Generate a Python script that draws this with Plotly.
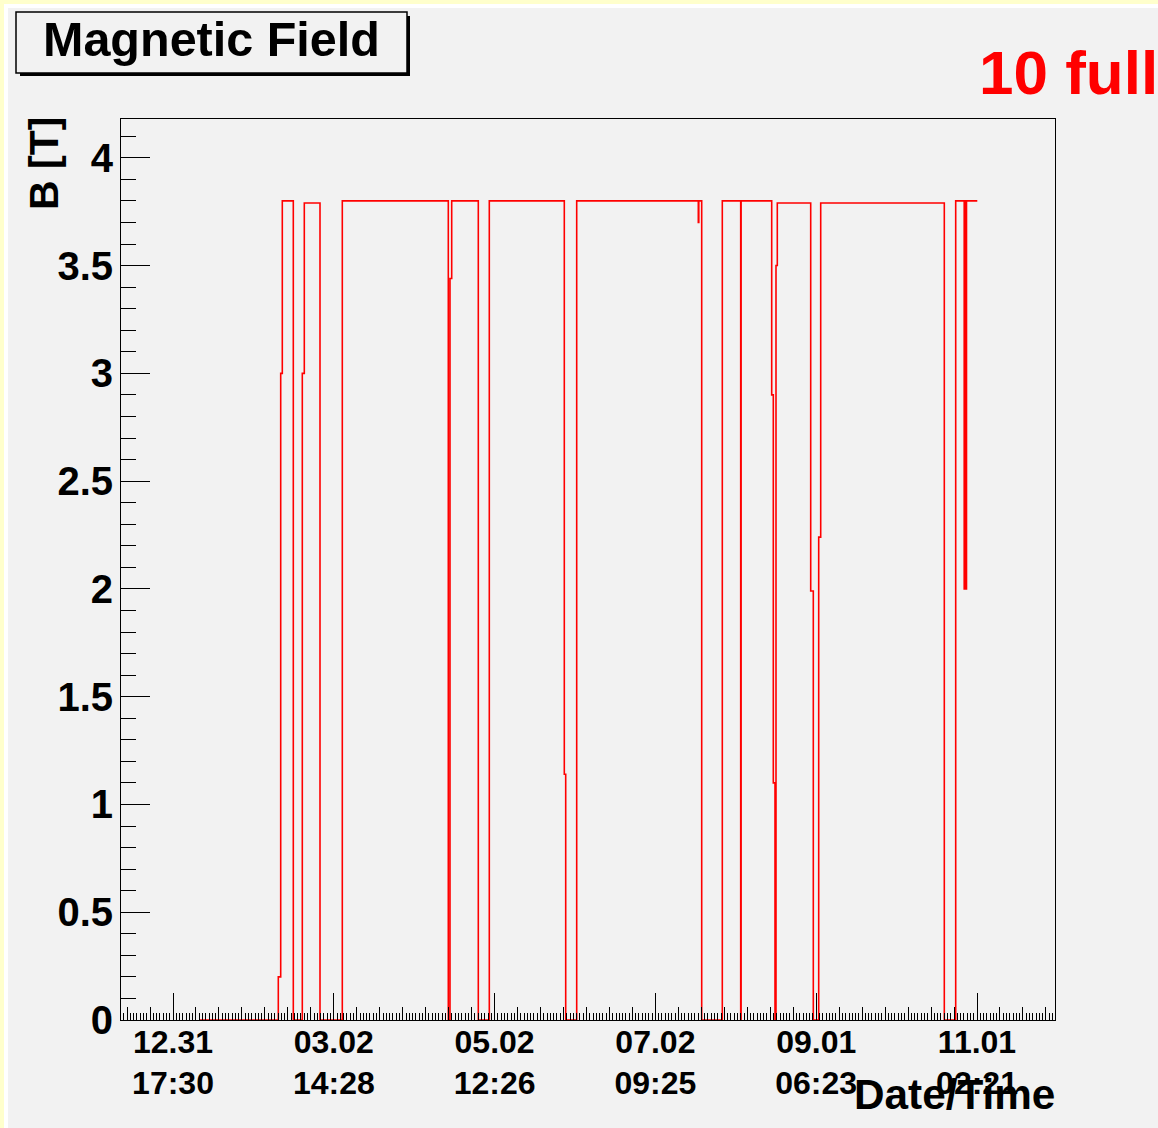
import plotly.graph_objects as go
import pandas as pd

# ---- data ----
times = [
    "2009-01-10 22:49", "2009-02-09 14:14", "2009-02-10 12:01", "2009-02-11 02:34",
    "2009-02-15 06:30", "2009-02-18 16:16", "2009-02-19 10:26", "2009-02-25 09:06",
    "2009-03-05 19:42", "2009-04-14 22:46", "2009-04-15 14:14", "2009-04-16 05:40",
    "2009-04-26 07:21", "2009-04-30 11:18", "2009-05-28 20:43", "2009-05-29 09:27",
    "2009-06-02 13:24", "2009-07-18 14:13", "2009-07-18 18:45", "2009-07-19 21:06",
    "2009-07-27 16:16", "2009-08-03 15:26", "2009-08-03 19:12", "2009-08-15 09:06",
    "2009-08-15 23:38", "2009-08-16 15:04", "2009-08-17 00:10", "2009-08-17 11:59",
    "2009-08-30 03:26", "2009-08-31 03:03", "2009-09-02 04:08", "2009-09-02 22:18",
    "2009-10-19 17:17", "2009-10-24 00:52", "2009-10-27 06:06", "2009-10-27 13:21",
    "2009-10-27 20:37", "2009-10-28 02:59", "2009-11-01 05:07",
]
field = [
    0.0, 0.2, 3.0, 3.8,
    0.0, 3.0, 3.79, 0.0,
    3.8, 0.0, 3.44, 3.8,
    0.0, 3.8, 1.14, 0.0,
    3.8, 3.70, 3.8, 0.0,
    3.8, 0.0, 3.8, 2.9,
    1.1, 0.0, 3.5, 3.79,
    1.99, 0.0, 2.24, 3.79,
    0.0, 3.8, 2.0, 3.8,
    2.0, 3.8, 3.8,
]

date_labels = ["12.31", "03.02", "05.02", "07.02", "09.01", "11.01"]
time_labels = ["17:30", "14:28", "12:26", "09:25", "06:23", "02:21"]

x_range = ["2008-12-12 01:02", "2009-11-30 15:04"]
y_range = [0, 4.18]

# ---- axis tick configuration ----
t0 = pd.Timestamp("2008-12-31 17:30:00")
primary_s = 5259492.0               # spacing of labelled ticks (s)
tickvals = [(t0 + pd.Timedelta(seconds=primary_s * k)).strftime("%Y-%m-%d %H:%M:%S")
            for k in range(len(date_labels))]
secondary_ms = primary_s / 7 * 1000
tertiary_ms = primary_s / 49 * 1000

W, H = 1158, 1128
L, R, T, B = 121, 1055, 119, 1020


def px(x):
    return (x - L) / (R - L)


def py(y):
    return (B - y) / (B - T)


FONT = "Liberation Sans, Arial, Helvetica, sans-serif"
GRAY = "#f2f2f2"

fig = go.Figure()
fig.add_trace(go.Scatter(
    x=times, y=field, mode="lines", line_shape="hv",
    line=dict(color="#ff0000", width=1.6), showlegend=False,
))
# empty helper traces so that the overlaid tick axes are drawn
for ax in ("x2", "x3"):
    fig.add_trace(go.Scatter(x=[None], y=[None], xaxis=ax, yaxis="y",
                             mode="lines", showlegend=False, hoverinfo="skip"))

fig.update_layout(
    width=W, height=H,
    margin=dict(l=L, r=W - R, t=T, b=H - B, pad=0),
    paper_bgcolor="#ffffcc",
    plot_bgcolor=GRAY,
    showlegend=False,
    xaxis=dict(
        type="date", range=x_range, showgrid=False, zeroline=False,
        showline=True, linecolor="black", linewidth=1, mirror=True,
        tickmode="array", tickvals=tickvals, ticktext=date_labels,
        ticks="inside", ticklen=27, tickwidth=1, tickcolor="black",
        tickfont=dict(family=FONT, size=32, color="black", weight="bold"),
        ticklabelstandoff=-6,
        minor=dict(tickmode="linear", tick0=tickvals[0], dtick=secondary_ms,
                   ticks="inside", ticklen=13, tickwidth=1, tickcolor="black",
                   showgrid=False),
    ),
    xaxis2=dict(
        type="date", range=x_range, overlaying="x", anchor="y", side="bottom",
        showgrid=False, zeroline=False, showline=False,
        tickmode="linear", tick0=tickvals[0], dtick=tertiary_ms,
        ticks="inside", ticklen=7, tickwidth=1, tickcolor="black",
        showticklabels=False,
    ),
    xaxis3=dict(
        type="date", range=x_range, overlaying="x", anchor="y", side="bottom",
        showgrid=False, zeroline=False, showline=False,
        tickmode="array", tickvals=tickvals, ticktext=time_labels,
        ticks="", ticklabelstandoff=41,
        tickfont=dict(family=FONT, size=32, color="black", weight="bold"),
    ),
    yaxis=dict(
        range=y_range, showgrid=False, zeroline=False,
        showline=True, linecolor="black", linewidth=1, mirror=True,
        tickmode="linear", tick0=0, dtick=0.5,
        ticks="inside", ticklen=29, tickwidth=1, tickcolor="black",
        tickfont=dict(family=FONT, size=40, color="black", weight="bold"),
        ticklabelstandoff=-1,
        minor=dict(tickmode="linear", tick0=0, dtick=0.1, ticks="inside",
                   ticklen=15, tickwidth=1, tickcolor="black", showgrid=False),
    ),
)

shapes = [
    # white rim and gray canvas
    dict(type="rect", xref="paper", yref="paper", layer="below",
         x0=px(4), x1=px(1300), y0=py(4), y1=py(1300),
         fillcolor="white", line=dict(width=0)),
    dict(type="rect", xref="paper", yref="paper", layer="below",
         x0=px(8), x1=px(1300), y0=py(8), y1=py(1300),
         fillcolor=GRAY, line=dict(width=0)),
    # title box with shadow
    dict(type="rect", xref="paper", yref="paper", layer="above",
         x0=px(20), x1=px(410), y0=py(16), y1=py(76),
         fillcolor="black", line=dict(width=0)),
    dict(type="rect", xref="paper", yref="paper", layer="above",
         x0=px(16), x1=px(407), y0=py(12), y1=py(73),
         fillcolor=GRAY, line=dict(color="black", width=1.5)),
]
fig.update_layout(shapes=shapes)

annotations = [
    dict(text="Magnetic Field", xref="paper", yref="paper",
         x=px(211), y=py(39), xanchor="center", yanchor="middle", showarrow=False,
         font=dict(family=FONT, size=48.5, color="black", weight="bold")),
    dict(text="10 full", xref="paper", yref="paper",
         x=px(977), y=py(72), xanchor="left", yanchor="middle", showarrow=False,
         font=dict(family=FONT, size=62, color="#ff0000", weight="bold")),
    dict(text="Date/Time", xref="paper", yref="paper",
         x=px(1057), y=py(1094), xanchor="right", yanchor="middle", showarrow=False,
         font=dict(family=FONT, size=42.3, color="black", weight="bold")),
    dict(text="B [T]", xref="paper", yref="paper", textangle=-90,
         x=px(43.5), y=py(163.5), xanchor="center", yanchor="middle", showarrow=False,
         font=dict(family=FONT, size=41, color="black", weight="bold")),
]
fig.update_layout(annotations=annotations)

fig.write_html("out.html")
